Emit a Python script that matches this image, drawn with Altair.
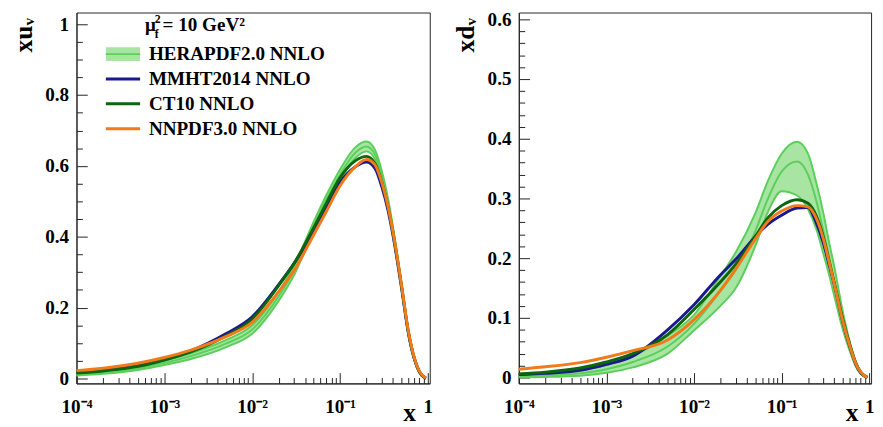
import altair as alt
import pandas as pd

# ---------------- data ----------------
X = [1e-4, 2e-4, 5e-4, 1e-3, 2e-3, 5e-3, 1e-2, 2e-2, 3e-2, 5e-2, 7e-2, 0.1,
     0.15, 0.2, 0.25, 0.3, 0.35, 0.4, 0.5, 0.6, 0.7, 0.8, 0.9, 0.95]

SERIES = ["HERAPDF2.0 NNLO", "MMHT2014 NNLO", "CT10 NNLO", "NNPDF3.0 NNLO"]
COLORS = ["#5cce5c", "#1a1a8c", "#0d650d", "#f27a1a"]
HERA_FILL = "#a8e5a2"

# x u_v
UV_MMHT = [.017, .023, .036, .054, .078, .126, .174, .265, .325, .415, .480, .553,
           .598, .611, .593, .540, .477, .405, .258, .128, .056, .019, .004, .001]
UV_CT10 = [.015, .021, .034, .052, .075, .120, .168, .262, .325, .425, .495, .567,
           .615, .627, .607, .553, .487, .413, .262, .131, .057, .019, .004, .001]
UV_NNPDF = [.022, .029, .043, .059, .080, .118, .158, .245, .305, .405, .472, .544,
            .598, .618, .603, .552, .488, .415, .265, .133, .058, .020, .005, .001]
UV_HERA_MID = [.012, .017, .029, .044, .063, .098, .138, .232, .305, .430, .505, .575,
               .638, .655, .632, .572, .500, .420, .262, .128, .054, .018, .004, .001]
UV_HERA_LO = [.008, .013, .024, .038, .055, .088, .126, .219, .292, .418, .492, .560,
              .623, .641, .619, .560, .490, .411, .256, .124, .052, .017, .0035, .0008]
UV_HERA_HI = [.016, .021, .034, .050, .071, .108, .150, .245, .318, .442, .518, .590,
              .653, .669, .645, .584, .510, .429, .268, .132, .056, .019, .0045, .0012]

# x d_v
DV_MMHT = [.005, .007, .012, .022, .036, .080, .122, .172, .198, .236, .257, .272,
           .284, .285, .258, .225, .188, .155, .093, .052, .023, .008, .002, .0005]
DV_CT10 = [.006, .009, .016, .026, .040, .072, .114, .160, .190, .236, .268, .288,
           .298, .292, .270, .235, .194, .158, .097, .055, .025, .009, .002, .0005]
DV_NNPDF = [.014, .018, .025, .034, .045, .063, .097, .146, .182, .232, .262, .279,
            .288, .286, .266, .232, .192, .156, .094, .053, .024, .009, .002, .0005]
DV_HERA_HI = [.004, .006, .012, .021, .036, .070, .105, .170, .210, .275, .330, .375,
              .395, .375, .325, .275, .225, .185, .110, .060, .027, .009, .002, .0005]
DV_HERA_MID = [.002, .0035, .007, .014, .026, .052, .090, .145, .180, .245, .300, .345,
               .362, .340, .295, .245, .200, .160, .095, .052, .023, .008, .0018, .0004]
DV_HERA_LO = [.0005, .001, .003, .008, .017, .040, .079, .120, .150, .220, .278, .312,
              .305, .282, .248, .207, .171, .136, .080, .044, .019, .006, .0014, .0003]

X_MAJOR = [1e-4, 1e-3, 1e-2, 1e-1, 1.0]
X_LABELS = ["10\u207b\u2074", "10\u207b\u00b3", "10\u207b\u00b2", "10\u207b\u00b9", "1"]
X_MINOR = [m * 10.0 ** e for e in range(-4, 0) for m in range(2, 10)]
UV_MAJOR = [0, 0.2, 0.4, 0.6, 0.8, 1.0]
UV_MINOR = [round(0.05 * i, 2) for i in range(1, 21) if i % 4]
DV_MAJOR = [0, 0.1, 0.2, 0.3, 0.4, 0.5, 0.6]
DV_MINOR = [round(0.02 * i, 2) for i in range(1, 31) if i % 5]

FONT = "Liberation Serif"
LAB = 19.5
TIT = 26

label_expr = "[" + ",".join("'" + s + "'" for s in X_LABELS) + "][round(log(datum.value)/LN10)+4]"


def panel(lo, mid, hi, curves, ydom, ymaj, ymin, ytitle, with_legend):
    band = pd.DataFrame({"x": X, "lo": lo, "mid": mid, "hi": hi})
    xs = alt.Scale(type="log", domain=[1e-4, 1.05], nice=False)
    ys = alt.Scale(domain=ydom, nice=False, zero=False)

    major_x = alt.Axis(values=X_MAJOR, labelExpr=label_expr, orient="bottom",
                       tickSize={"expr": "-11"}, labelPadding=26, labelFlush=False,
                       labelOverlap=False, grid=False, title="x", titleX=340, titleY=38,
                       titleAlign="center", titleBaseline="alphabetic",
                       titleFontSize=TIT)
    minor_x = alt.Axis(values=X_MINOR, labels=False, orient="bottom",
                       tickSize={"expr": "-6"}, domain=False, grid=False, title=None)
    major_y = alt.Axis(values=ymaj, format="~g", orient="left",
                       tickSize={"expr": "-11"}, labelPadding=19, labelFlush=False,
                       labelOverlap=False, grid=False, title=ytitle, titleX=-46, titleY=5,
                       titleAngle=270, titleAlign="right", titleBaseline="alphabetic",
                       titleFontSize=TIT)
    minor_y = alt.Axis(values=ymin, labels=False, orient="left",
                       tickSize={"expr": "-6"}, domain=False, grid=False, title=None)

    layers = [
        alt.Chart(band).mark_area(color=HERA_FILL, interpolate="monotone").encode(
            x=alt.X("x:Q", scale=xs, axis=minor_x),
            y=alt.Y("lo:Q", scale=ys, axis=minor_y),
            y2="hi:Q",
        )
    ]
    for col in ["lo", "hi", "mid"]:
        layers.append(
            alt.Chart(band).mark_line(color=COLORS[0], strokeWidth=2, interpolate="monotone").encode(
                x=alt.X("x:Q", scale=xs, axis=None),
                y=alt.Y(col + ":Q", scale=ys, axis=None),
            )
        )
    for i, (vals, color) in enumerate(curves):
        df = pd.DataFrame({"x": X, "v": vals})
        layers.append(
            alt.Chart(df).mark_line(color=color, strokeWidth=3, interpolate="monotone").encode(
                x=alt.X("x:Q", scale=xs, axis=major_x if i == 0 else None),
                y=alt.Y("v:Q", scale=ys, axis=major_y if i == 0 else None),
            )
        )

    if with_legend:
        one = pd.DataFrame({"k": [0]})
        # mu_f^2 = 10 GeV^2
        layers.append(alt.Chart(one).mark_text(font=FONT, fontSize=LAB, fontWeight="bold",
                                               align="left", baseline="alphabetic", color="black").encode(
            x=alt.value(70), y=alt.value(19), text=alt.value("\u03bc")))
        layers.append(alt.Chart(one).mark_text(font=FONT, fontSize=12, fontWeight="bold",
                                               align="left", baseline="alphabetic", color="black").encode(
            x=alt.value(80), y=alt.value(11), text=alt.value("2")))
        layers.append(alt.Chart(one).mark_text(font=FONT, fontSize=12, fontWeight="bold",
                                               align="left", baseline="alphabetic", color="black").encode(
            x=alt.value(80), y=alt.value(26), text=alt.value("f")))
        layers.append(alt.Chart(one).mark_text(font=FONT, fontSize=LAB, fontWeight="bold",
                                               align="left", baseline="alphabetic", color="black").encode(
            x=alt.value(88), y=alt.value(19), text=alt.value("= 10 GeV\u00b2")))
        for i, (name, color) in enumerate(zip(SERIES, COLORS)):
            yy = 42.5 + 25.4 * i
            row = pd.DataFrame({"label": [name]})
            if i == 0:
                layers.append(alt.Chart(row).mark_rect(color=HERA_FILL).encode(
                    x=alt.value(30), x2=alt.value(65), y=alt.value(yy - 7), y2=alt.value(yy + 7)))
                sw = 2
            else:
                sw = 3
            layers.append(alt.Chart(row).mark_rule(color=color, strokeWidth=sw).encode(
                x=alt.value(30), x2=alt.value(65), y=alt.value(yy)))
            layers.append(alt.Chart(row).mark_text(font=FONT, fontSize=LAB, fontWeight="bold",
                                                   align="left", baseline="middle", color="black").encode(
                x=alt.value(74), y=alt.value(yy), text="label:N"))

    return alt.layer(*layers).resolve_axis(x="independent", y="independent")


left = panel(UV_HERA_LO, UV_HERA_MID, UV_HERA_HI,
             [(UV_MMHT, COLORS[1]), (UV_CT10, COLORS[2]), (UV_NNPDF, COLORS[3])],
             [-0.014, 1.033], UV_MAJOR, UV_MINOR, "xu\u1d65", True).properties(width=361, height=379)
right = panel(DV_HERA_LO, DV_HERA_MID, DV_HERA_HI,
              [(DV_MMHT, COLORS[1]), (DV_CT10, COLORS[2]), (DV_NNPDF, COLORS[3])],
              [-0.0098, 0.6115], DV_MAJOR, DV_MINOR, "xd\u1d65", False).properties(width=360, height=379)

chart = alt.hconcat(left, right, spacing=19).properties(
    padding={"left": 2, "top": -4, "right": 0, "bottom": 0}
).configure_view(stroke="#222", strokeWidth=1).configure_axis(
    labelFont=FONT, labelFontSize=LAB, labelFontWeight="bold", labelColor="black",
    titleFont=FONT, titleFontWeight="bold", titleColor="black",
    domainColor="#222", domainWidth=1, tickColor="#222", tickWidth=1,
)

chart.save("out.html", embed_options={"renderer": "svg", "actions": False})
